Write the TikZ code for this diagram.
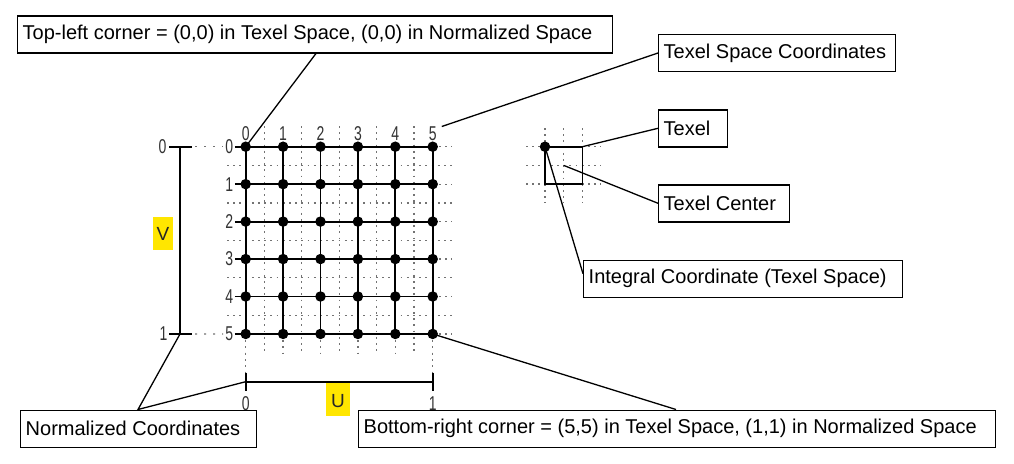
\documentclass[tikz,border=0pt]{standalone}
\usepackage{fontspec}
\setmainfont{Liberation Sans}
\usepackage{graphicx}
\usetikzlibrary{calc}
\definecolor{hilite}{RGB}{255,230,0}
\definecolor{latt}{RGB}{115,115,115}
\tikzset{
  lattice/.style={draw=latt, line width=1.3pt, dash pattern=on 1.8pt off 4.4pt},
  sparse/.style={draw=latt, line width=1.3pt, dash pattern=on 2pt off 7pt},
  gridline/.style={line width=1.8pt, black},
  dot/.style={circle, fill=black, inner sep=0pt, minimum size=10.5pt},
  callout/.style={draw=black, line width=1.4pt, fill=white, inner xsep=5pt,
    inner ysep=0pt, minimum height=37pt, anchor=west,
    font=\fontsize{20}{24}\selectfont},
  leader/.style={line width=1.3pt, black},
  axis/.style={line width=1.8pt, black},
  idx/.style={inner sep=0pt, text=black!80, font=\fontsize{20}{22}\selectfont},
  axisname/.style={inner sep=0pt, text=black!85, font=\fontsize{19}{22}\selectfont},
}
\newcommand\narrowdigit[1]{\scalebox{0.7}[1]{#1}}

\begin{document}
\begin{tikzpicture}[x=1pt,y=-1pt]
\useasboundingbox[fill=white] (0,0) rectangle (1014,463);

% grid positions: columns and rows of the 6x6 texel lattice
\foreach \i in {0,...,5}{
  \foreach \j in {0,...,5}{
    \pgfmathsetmacro\px{245.7+37.4*\i}
    \pgfmathsetmacro\py{146.7+37.45*\j}
    \coordinate (p-\i-\j) at (\px,\py);
  }
}

% half-step dotted lattice
\foreach \k in {0,...,4}{
  \pgfmathsetmacro\hy{146.7+37.45*(\k+0.5)}
  \pgfmathsetmacro\hx{245.7+37.4*(\k+0.5)}
  \draw[lattice] (227,\hy) -- (452,\hy);
  \draw[lattice] (\hx,126) -- (\hx,353);
}
% integer lines continued past the right and bottom edges
\foreach \k in {0,...,5}{
  \draw[lattice] (p-5-\k) -- ++(19,0);
  \draw[lattice] (p-\k-5) -- ++(0,19);
}
\draw[lattice] ($(p-0-5)+(0,19)$) -- ++(0,20);
\draw[lattice] ($(p-5-5)+(0,19)$) -- ++(0,20);

% index labels
\foreach \k in {0,...,5}{
  \node[idx] (c\k) at ($(p-\k-0)+(0,-13.2)$) {\narrowdigit{\k}};
  \node[idx] (r\k) at ($(p-0-\k)+(-16.5,0)$) {\narrowdigit{\k}};
}

% solid grid
\foreach \k in {0,...,5}{
  \draw[gridline] ([xshift=1.5pt]r\k.east) -- (p-5-\k);
  \draw[gridline] (p-\k-0) -- (p-\k-5);
}

% V axis (normalized)
\coordinate (vtop) at (180,146.7);
\coordinate (vbot) at (180,334.0);
\draw[axis] (vtop) -- (vbot);
\draw[axis] ($(vtop)+(-11,0)$) -- ($(vtop)+(12,0)$);
\draw[axis] ($(vbot)+(-11,0)$) -- ($(vbot)+(12,0)$);
\node[idx] (v0) at (162.5,146.7) {\narrowdigit{0}};
\node[idx] (v1) at (163.5,334.0) {\narrowdigit{1}};
\draw[sparse] ($(vtop)+(15,0)$) -- ([xshift=-2pt]r0.west);
\draw[sparse] ($(vbot)+(15,0)$) -- ([xshift=-2pt]r5.west);
\fill[hilite] (152.7,217.3) rectangle (173.3,250.0);
\node[axisname] (vname) at (163,234) {V};

% U axis (normalized)
\coordinate (uleft) at (245.7,381.7);
\coordinate (uright) at (432.7,381.7);
\draw[axis] (uleft) -- (uright);
\draw[axis] ($(uleft)+(0,-9)$) -- ($(uleft)+(0,9)$);
\draw[axis] ($(uright)+(0,-9)$) -- ($(uright)+(0,9)$);
\node[idx] (u0) at (245.7,404) {\narrowdigit{0}};
\node[idx] (u1) at (432.7,404) {\narrowdigit{1}};
\fill[hilite] (326,383) rectangle (350,416);
\node[axisname] (uname) at (338,401) {U};

% single texel detail
\foreach \v in {0,1,2}{
  \pgfmathsetmacro\tx{545+18.7*\v}
  \pgfmathsetmacro\ty{146.7+18.7*\v}
  \draw[lattice] (526,\ty) -- (601,\ty);
  \draw[lattice] (\tx,128) -- (\tx,203);
}
\coordinate (tnw) at (545,146.7);
\coordinate (tne) at (582.4,146.7);
\coordinate (tmid) at (563.7,165.4);
\draw[gridline] (tnw) rectangle (582.4,184.1);

% callout boxes
\node[callout] (tl) at (17,34.3) {\makebox[585pt][l]{Top-left corner = (0,0) in Texel Space, (0,0) in Normalized Space}};
\node[callout] (tsc) at (658,53) {\makebox[227pt][l]{Texel Space Coordinates}};
\node[callout] (texel) at (658,128.3) {\makebox[59pt][l]{Texel}};
\node[callout] (tcenter) at (658,203.3) {\makebox[121pt][l]{Texel Center}};
\node[callout] (integral) at (583,278.7) {\makebox[309pt][l]{Integral Coordinate (Texel Space)}};
\node[callout] (norm) at (20,428.7) {\makebox[226pt][l]{Normalized Coordinates}};
\node[callout] (br) at (358,428.7) {\makebox[627pt][l]{Bottom-right corner = (5,5) in Texel Space, (1,1) in Normalized Space}};

% leader lines
\coordinate (tlfoot) at ($(tl.south west)+(299,0)$);
\coordinate (c5tip) at ($(c5.east)+(5,-7)$);
\coordinate (intfoot) at ($(integral.west)+(0,-5)$);
\coordinate (normtop) at ($(norm.north west)+(118,0)$);
\coordinate (brtop) at ($(br.north west)+(318,0)$);
\draw[leader] (tlfoot) -- (p-0-0);
\draw[leader] (tsc.west) -- (c5tip);
\draw[leader] (texel.west) -- (tne);
\draw[leader] (tcenter.west) -- (tmid);
\draw[leader] (intfoot) -- (tnw);
\draw[leader] (vbot) -- (normtop) -- (uleft);
\draw[leader] (p-5-5) -- (brtop);

% lattice points
\foreach \i in {0,...,5}{
  \foreach \j in {0,...,5}{
    \node[dot] (d-\i-\j) at (p-\i-\j) {};
  }
}
\node[dot] (tdot) at (tnw) {};

\end{tikzpicture}
\end{document}
